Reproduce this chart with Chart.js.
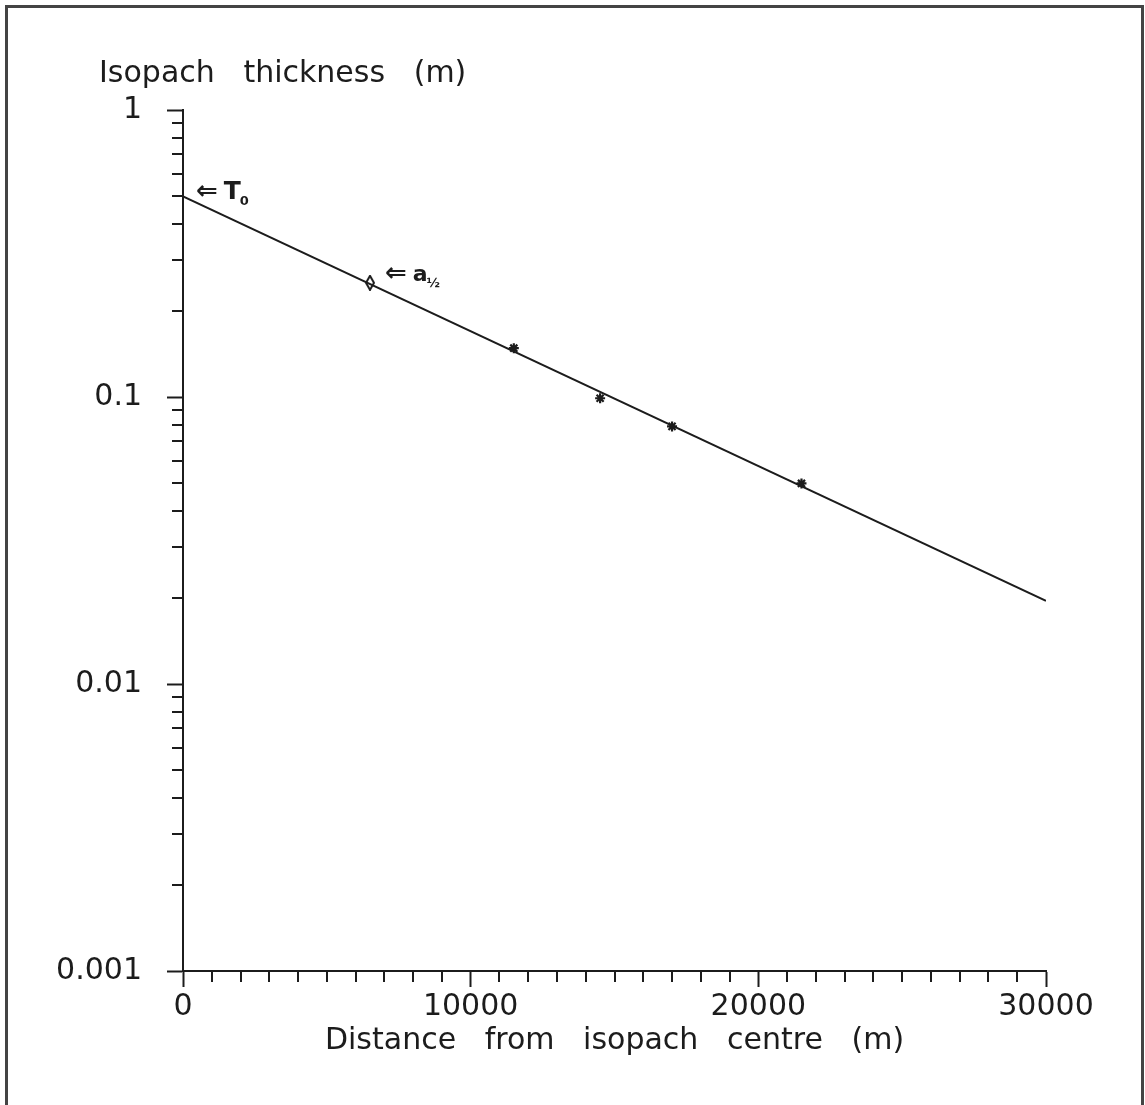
<!DOCTYPE html>
<html>
<head>
<meta charset="utf-8">
<script src="https://cdn.jsdelivr.net/npm/chart.js@4.4.1/dist/chart.umd.min.js"></script>
<style>
    html, body { margin: 0; padding: 0; background: #fff; overflow: hidden; }
    #wrap { position: relative; width: 1145px; height: 1105px; }
    #frame {
        position: absolute; left: 5px; top: 5px; width: 1133px; height: 1200px;
        border: 3px solid #444; border-bottom: none; pointer-events: none;
    }
</style>
</head>
<body>
<div id="wrap">
    <canvas id="chart" width="1145" height="1105"></canvas>
    <div id="frame"></div>
</div>
<script>
// ---------- DATA ----------
const fitDistance = [0, 30000];          // fitted line end points (m)
const fitThickness = [0.5, 0.0195];      // (m)
const obsDistance = [11500, 14500, 17000, 21500];
const obsThickness = [0.148, 0.099, 0.079, 0.05];
const halfDistance = [6500];
const halfThickness = [0.25];

const xTickValues = [0, 10000, 20000, 30000];
const xTickLabels = ['0', '10000', '20000', '30000'];
const yTickValues = [0.001, 0.01, 0.1, 1];
const yTickLabels = ['0.001', '0.01', '0.1', '1'];

const yTitle = 'Isopach   thickness   (m)';
const xTitle = 'Distance   from   isopach   centre   (m)';

// arrow labels, anchored on data values
const noteX = [0, 6500];
const noteY = [0.5, 0.25];
const noteMain = ['T', 'a'];
const noteSub = ['0', '½'];

const INK = '#1c1c1c';
const FONT = "'DejaVu Sans', sans-serif";

// narrow diamond marker for the half-thickness point
function diamondMarker() {
    const c = document.createElement('canvas');
    c.width = 10; c.height = 16;
    const g = c.getContext('2d');
    g.strokeStyle = INK;
    g.lineWidth = 2;
    g.beginPath();
    g.moveTo(5, 1); g.lineTo(9, 8); g.lineTo(5, 15); g.lineTo(1, 8); g.closePath();
    g.fillStyle = '#fff';
    g.fill();
    g.stroke();
    return c;
}

// ---------- MINOR TICKS, Y TITLE, NOTES ----------
const extrasPlugin = {
    id: 'extras',
    afterDraw(chart) {
        const ctx = chart.ctx;
        const xs = chart.scales.x, ys = chart.scales.y;
        const area = chart.chartArea;
        ctx.save();
        ctx.strokeStyle = INK;
        ctx.lineWidth = 2;
        ctx.beginPath();
        for (let v = 1000; v < 30000; v += 1000) {
            if (v % 10000 === 0) continue;
            const px = Math.round(xs.getPixelForValue(v));
            ctx.moveTo(px, area.bottom);
            ctx.lineTo(px, area.bottom + 11);
        }
        for (let d = 0; d < yTickValues.length - 1; d++) {
            for (let m = 2; m <= 9; m++) {
                const py = Math.round(ys.getPixelForValue(m * yTickValues[d]));
                ctx.moveTo(area.left, py);
                ctx.lineTo(area.left - 11, py);
            }
        }
        ctx.stroke();

        // y axis title, horizontal above the axis
        ctx.fillStyle = INK;
        ctx.textBaseline = 'alphabetic';
        ctx.textAlign = 'left';
        ctx.font = '30px ' + FONT;
        ctx.fillText(yTitle, area.left - 84, area.top - 28);

        // arrow notes
        noteX.forEach((v, i) => {
            const px = xs.getPixelForValue(v);
            const py = ys.getPixelForValue(noteY[i]);
            const ox = i === 0 ? 13 : 15;
            const oy = i === 0 ? 3 : -2;
            ctx.font = 'bold 26px ' + FONT;
            ctx.fillText('⇐', px + ox, py + oy);
            const aw = ctx.measureText('⇐').width + 6;
            ctx.font = (i === 0 ? 'bold 25px ' : 'bold 22px ') + FONT;
            ctx.fillText(noteMain[i], px + ox + aw, py + oy);
            const mw = ctx.measureText(noteMain[i]).width;
            ctx.font = 'bold 13px ' + FONT;
            ctx.fillText(noteSub[i], px + ox + aw + mw - 1, py + oy + 6);
        });
        ctx.restore();
    }
};

// ---------- CHART ----------
new Chart(document.getElementById('chart'), {
    type: 'scatter',
    data: {
        datasets: [
            {
                label: 'fit',
                data: fitDistance.map((x, i) => ({ x, y: fitThickness[i] })),
                showLine: true,
                borderColor: INK,
                borderWidth: 2,
                pointRadius: 0
            },
            {
                label: 'half',
                data: halfDistance.map((x, i) => ({ x, y: halfThickness[i] })),
                pointStyle: diamondMarker(),
                pointRadius: 6
            },
            {
                label: 'isopachs',
                data: obsDistance.map((x, i) => ({ x, y: obsThickness[i] })),
                pointStyle: 'star',
                pointRadius: 5,
                borderColor: INK,
                borderWidth: 2.2
            }
        ]
    },
    options: {
        responsive: false,
        animation: false,
        devicePixelRatio: 1,
        layout: { padding: { left: 30, right: 99, top: 110, bottom: 0 } },
        plugins: {
            legend: { display: false },
            tooltip: { enabled: false }
        },
        scales: {
            x: {
                type: 'linear',
                min: 0,
                max: 30000,
                afterBuildTicks: s => { s.ticks = xTickValues.map(v => ({ value: v })); },
                afterFit: s => { s.height = 134; s.paddingLeft = 0; s.paddingRight = 0; },
                ticks: {
                    color: INK,
                    font: { family: FONT, size: 30 },
                    padding: 2,
                    maxRotation: 0,
                    autoSkip: false,
                    callback: (v, i) => xTickLabels[i]
                },
                grid: {
                    drawOnChartArea: false,
                    tickLength: 16,
                    tickColor: INK,
                    tickWidth: 2
                },
                border: { color: INK, width: 2 },
                title: {
                    display: true,
                    text: xTitle,
                    color: INK,
                    font: { family: FONT, size: 30, weight: 'normal' },
                    padding: { top: 0, bottom: 46 }
                }
            },
            y: {
                type: 'logarithmic',
                min: 0.001,
                max: 1,
                afterBuildTicks: s => { s.ticks = yTickValues.map(v => ({ value: v })); },
                afterFit: s => { s.width = 153; },
                ticks: {
                    color: INK,
                    font: { family: FONT, size: 30 },
                    padding: 25,
                    autoSkip: false,
                    callback: (v, i) => yTickLabels[i]
                },
                grid: {
                    drawOnChartArea: false,
                    tickLength: 16,
                    tickColor: INK,
                    tickWidth: 2
                },
                border: { color: INK, width: 2 }
            }
        }
    },
    plugins: [extrasPlugin]
});
</script>
</body>
</html>
